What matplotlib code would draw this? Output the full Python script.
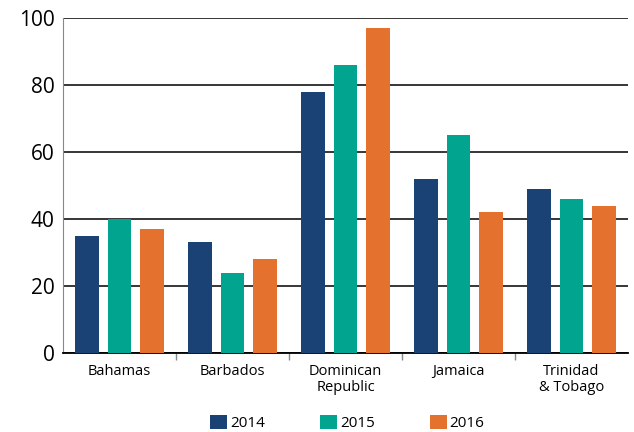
import matplotlib.pyplot as plt
import numpy as np

countries = ["Bahamas", "Barbados", "Dominican\nRepublic", "Jamaica", "Trinidad\n& Tobago"]
years = ["2014", "2015", "2016"]
v2014 = [35, 33, 78, 52, 49]
v2015 = [40, 24, 86, 65, 46]
v2016 = [37, 28, 97, 42, 44]
colors = ["#1b4274", "#00a48f", "#e5712f"]

plt.rcParams["font.family"] = ["Open Sans", "DejaVu Sans"]

fig = plt.figure(figsize=(6.34, 4.32), dpi=100)
ax = fig.add_axes([0.0994, 0.183, 0.891, 0.7755])

x = np.arange(len(countries))
offset = 0.29
width = 0.21
for i, (vals, lab) in enumerate(zip([v2014, v2015, v2016], years)):
    ax.bar(x + (i - 1) * offset, vals, width=width, color=colors[i], label=lab, zorder=3)

ax.set_xlim(-0.5, len(countries) - 0.5)
ax.set_ylim(0, 100)
ax.set_yticks([0, 20, 40, 60, 80, 100])
ax.tick_params(axis="y", labelsize=15, length=0, pad=6)
ax.yaxis.grid(True, color="black", linewidth=1.1, zorder=0)

# category labels centred, ticks at group boundaries
ax.set_xticks(x)
ax.set_xticklabels(countries, fontsize=10.5, linespacing=1.1)
ax.tick_params(axis="x", length=0, pad=8)
ax.set_xticks(np.arange(0.5, len(countries) - 0.5, 1), minor=True)
ax.tick_params(axis="x", which="minor", length=5, color="#888888", width=1)

for s in ["top", "right"]:
    ax.spines[s].set_visible(False)
ax.spines["left"].set_color("#888888")
ax.spines["bottom"].set_color("black")
ax.spines["bottom"].set_linewidth(1.3)

fig.legend(loc="lower center", bbox_to_anchor=(0.548, -0.03), ncol=3, frameon=False,
           fontsize=11, handlelength=1.1, handleheight=1.1, columnspacing=3.6,
           handletextpad=0.2)

fig.savefig("out.png", dpi=100)
